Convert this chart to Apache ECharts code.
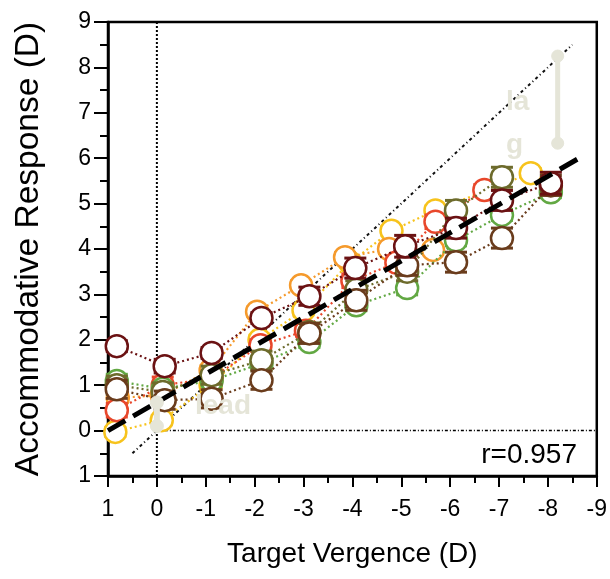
<!DOCTYPE html>
<html>
<head>
<meta charset="utf-8">
<script src="https://cdn.jsdelivr.net/npm/echarts@6/dist/echarts.min.js"></script>
<style>
  html, body { margin: 0; padding: 0; background: #fff; }
  #chart { width: 610px; height: 579px; }
</style>
</head>
<body>
<div id="chart"></div>
<script>
// Accommodative response vs. target vergence, one series per subject

const xTickLabels = ['-9', '-8', '-7', '-6', '-5', '-4', '-3', '-2', '-1', '0', '1'];
const yTickLabels = ['1', '0', '1', '2', '3', '4', '5', '6', '7', '8', '9'];

const yellowX = [0.85, -0.1, -1.1, -2.1, -3.0, -3.95, -4.8, -5.7, -7.65];
const yellowY = [-0.03, 0.23, 1.0, 2.0, 2.65, 3.7, 4.4, 4.85, 5.67];
const yellowE = [0.1, 0.1, 0.1, 0.1, 0.1, 0.1, 0.1, 0.1, 0.1];

const orangeX = [0.8, -0.1, -1.1, -2.05, -2.95, -3.85, -4.75, -5.65];
const orangeY = [0.72, 0.78, 1.33, 2.62, 3.2, 3.82, 4.0, 3.98];
const orangeE = [0.1, 0.1, 0.1, 0.1, 0.1, 0.1, 0.1, 0.1];

const redX = [0.82, -0.12, -1.12, -2.12, -3.05, -4.0, -4.9, -5.7, -6.7];
const redY = [0.45, 1.0, 1.15, 1.88, 2.2, 3.3, 3.7, 4.6, 5.3];
const redE = [0.15, 0.18, 0.12, 0.12, 0.12, 0.15, 0.15, 0.15, 0.12];

const greenX = [0.82, -0.12, -1.12, -2.14, -3.12, -4.08, -5.12, -6.12, -7.06, -8.06];
const greenY = [1.09, 0.92, 1.1, 1.48, 1.95, 2.76, 3.14, 4.19, 4.75, 5.25];
const greenE = [0.15, 0.12, 0.12, 0.15, 0.12, 0.12, 0.15, 0.12, 0.12, 0.12];

const oliveX = [0.82, -0.12, -1.12, -2.14, -3.12, -4.08, -5.12, -6.12, -7.06];
const oliveY = [1.0, 0.85, 1.22, 1.55, 2.17, 3.1, 3.5, 4.85, 5.58];
const oliveE = [0.2, 0.2, 0.2, 0.2, 0.2, 0.2, 0.2, 0.22, 0.22];

const brownX = [0.82, -0.16, -1.12, -2.14, -3.12, -4.08, -5.12, -6.12, -7.06, -8.06];
const brownY = [0.91, 0.67, 0.7, 1.11, 2.14, 2.87, 3.64, 3.71, 4.24, 5.4];
const brownE = [0.2, 0.2, 0.2, 0.2, 0.22, 0.22, 0.22, 0.22, 0.22, 0.22];

const maroonX = [0.82, -0.16, -1.12, -2.14, -3.12, -4.06, -5.08, -6.12, -7.06, -8.06];
const maroonY = [1.86, 1.42, 1.71, 2.48, 2.96, 3.58, 4.06, 4.46, 5.07, 5.45];
const maroonE = [0.12, 0.15, 0.12, 0.12, 0.2, 0.22, 0.24, 0.22, 0.22, 0.24];

// Reference lines
const demandLine = [[0.5, -0.5], [-8.5, 8.5]];
const fitLine = [[1.0, 0.0], [-8.75, 6.07]];
const zeroVergence = [[0, -1], [0, 9]];
const zeroResponse = [[0, 0], [-9, 0]];
const lagBar = [[-8.2, 8.25], [-8.2, 6.33]];
const leadBar = [[0, 0.1], [0, 0.62]];

const FONT = "'Liberation Sans', Arial, Helvetica, sans-serif";
const ANNOT = '#e5e5d8';

const subjects = [
  { color: '#f7c31c', x: yellowX, y: yellowY, e: yellowE },
  { color: '#f59a2c', x: orangeX, y: orangeY, e: orangeE },
  { color: '#e8472b', x: redX, y: redY, e: redE },
  { color: '#62a843', x: greenX, y: greenY, e: greenE },
  { color: '#6d6b2c', x: oliveX, y: oliveY, e: oliveE },
  { color: '#6a3c1c', x: brownX, y: brownY, e: brownE },
  { color: '#6b1213', x: maroonX, y: maroonY, e: maroonE }
];

const series = [];

function refLine(data, style, z) {
  return {
    type: 'line', data: data, symbol: 'none', silent: true, z: z,
    lineStyle: style, animation: false
  };
}

series.push(refLine(zeroVergence, { color: '#000', width: 2, type: [2, 2] }, 1));
series.push(refLine(zeroResponse, { color: '#000', width: 1.5, type: [3, 2, 1, 2] }, 1));
series.push(refLine(demandLine, { color: '#111', width: 2, type: [3, 3, 1, 3] }, 1));

subjects.forEach(function (s, i) {
  const pts = s.x.map(function (xv, k) { return [xv, s.y[k], s.e[k]]; });
  series.push({
    type: 'custom',
    data: pts,
    z: 3 + i * 2,
    silent: true,
    animation: false,
    renderItem: function (params, api) {
      const xv = api.value(0), yv = api.value(1), ev = api.value(2);
      const top = api.coord([xv, yv + ev]);
      const bot = api.coord([xv, yv - ev]);
      const hw = 11;
      const st = { stroke: s.color, lineWidth: 3 };
      return {
        type: 'group',
        children: [
          { type: 'line', shape: { x1: top[0], y1: top[1], x2: bot[0], y2: bot[1] }, style: st },
          { type: 'line', shape: { x1: top[0] - hw, y1: top[1], x2: top[0] + hw, y2: top[1] }, style: st },
          { type: 'line', shape: { x1: bot[0] - hw, y1: bot[1], x2: bot[0] + hw, y2: bot[1] }, style: st }
        ]
      };
    }
  });
  series.push({
    type: 'line',
    data: pts.map(function (p) { return [p[0], p[1]]; }),
    z: 4 + i * 2,
    symbol: 'circle',
    symbolSize: 22,
    showAllSymbol: true,
    animation: false,
    lineStyle: { color: s.color, width: 2.2, type: [2, 3] },
    itemStyle: { color: '#fff', borderColor: s.color, borderWidth: 2.5 }
  });
});

series.push(refLine(fitLine, { color: '#000', width: 5, type: [20, 9] }, 30));

series.push({
  type: 'line', data: lagBar, z: 31, silent: true, animation: false,
  symbol: 'circle', symbolSize: 12,
  lineStyle: { color: ANNOT, width: 5 },
  itemStyle: { color: ANNOT, borderColor: ANNOT }
});
series.push({
  type: 'line', data: leadBar, z: 31, silent: true, animation: false,
  symbol: 'circle', symbolSize: 13,
  lineStyle: { color: ANNOT, width: 6 },
  itemStyle: { color: ANNOT, borderColor: ANNOT }
});

const chart = echarts.init(document.getElementById('chart'), null, { renderer: 'canvas' });

chart.setOption({
  backgroundColor: '#fff',
  animation: false,
  grid: {
    left: 108, right: 12, top: 22, bottom: 103,
    show: true, borderColor: '#000', borderWidth: 2.5, backgroundColor: 'transparent'
  },
  xAxis: {
    type: 'value', min: -9, max: 1, interval: 1, inverse: true,
    name: 'Target Vergence (D)', nameLocation: 'middle', nameGap: 64,
    nameTextStyle: { fontSize: 28, color: '#000', fontFamily: FONT },
    axisLine: { show: true, onZero: false, lineStyle: { color: '#000', width: 2.5 } },
    axisTick: { show: true, length: 11, lineStyle: { color: '#000', width: 2 } },
    minorTick: { show: true, splitNumber: 2, length: 7, lineStyle: { color: '#000', width: 2 } },
    splitLine: { show: false },
    axisLabel: {
      fontSize: 23, color: '#000', fontFamily: FONT, margin: 22,
      formatter: function (v) { return xTickLabels[Math.round(v) + 9]; }
    }
  },
  yAxis: {
    type: 'value', min: -1, max: 9, interval: 1,
    name: 'Accommodative Response (D)', nameLocation: 'middle', nameGap: 62,
    nameTextStyle: { fontSize: 33.5, color: '#000', fontFamily: FONT },
    axisLine: { show: true, onZero: false, lineStyle: { color: '#000', width: 2.5 } },
    axisTick: { show: true, length: 14, lineStyle: { color: '#000', width: 2 } },
    minorTick: { show: true, splitNumber: 2, length: 8, lineStyle: { color: '#000', width: 2 } },
    splitLine: { show: false },
    axisLabel: {
      fontSize: 23, color: '#000', fontFamily: FONT, margin: 17,
      formatter: function (v) { return yTickLabels[Math.round(v) + 1]; }
    }
  },
  graphic: {
    elements: [
      { type: 'text', left: 195, top: 392, z: 200, zlevel: 2,
        style: { text: 'lead', fill: ANNOT, font: 'bold 28px ' + FONT } },
      { type: 'text', left: 506, top: 88, z: 200, zlevel: 2,
        style: { text: 'la', fill: ANNOT, font: 'bold 28px ' + FONT } },
      { type: 'text', left: 506, top: 131, z: 200, zlevel: 2,
        style: { text: 'g', fill: ANNOT, font: 'bold 28px ' + FONT } },
      { type: 'text', right: 33, top: 441, z: 200, zlevel: 2,
        style: { text: 'r=0.957', fill: '#000', font: '28px ' + FONT } }
    ]
  },
  series: series
});
</script>
</body>
</html>
